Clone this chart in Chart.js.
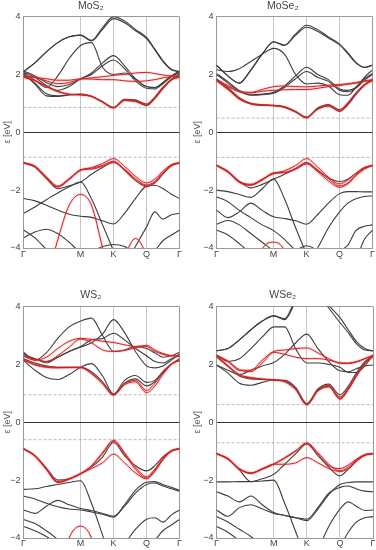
<!DOCTYPE html>
<html><head><meta charset="utf-8">
<script src="https://cdn.jsdelivr.net/npm/chart.js@4/dist/chart.umd.min.js"></script>
<style>
html,body{margin:0;padding:0;background:#fff;}
#wrap{position:relative;width:376px;height:550px;}
.p{position:absolute;width:188px;height:275px;}
canvas{display:block;}
</style>
</head><body>
<div id="wrap">
<div class="p" style="left:0;top:0"><canvas id="c0" width="188" height="275"></canvas></div>
<div class="p" style="left:188px;top:0"><canvas id="c1" width="188" height="275"></canvas></div>
<div class="p" style="left:0;top:275px"><canvas id="c2" width="188" height="275"></canvas></div>
<div class="p" style="left:188px;top:275px"><canvas id="c3" width="188" height="275"></canvas></div>
</div>
<script>
// k-path sample points (Γ=0, M=1, K=1.577, Q=2.155, Γ=2.732)
const kPath = [0, 0.2, 0.4, 0.6, 0.8, 1, 1.19, 1.385, 1.577, 1.77, 1.96, 2.155, 2.30, 2.44, 2.59, 2.732];
const kTickPos = [0, 1, 1.577, 2.155, 2.732];
const kTickLabels = ['Γ', 'M', 'K', 'Q', 'Γ'];
const energyTicks = [-4, -2, 0, 2, 4];
const panelTitles = ['MoS₂', 'MoSe₂', 'WS₂', 'WSe₂'];

// band edges (dashed lines), eV
const mos2Gap = [0.86, -0.86];
const mose2Gap = [0.49, -0.87];
const ws2Gap = [0.95, -0.60];
const wse2Gap = [0.61, -0.71];

// ---------- MoS2 ----------
const mos2Black = [
  [2.10, 2.40, 2.78, 3.10, 3.30, 3.36, 3.18, 3.62, 4.00, 3.85, 3.56, 3.28, 2.88, 2.48, 2.18, 2.10],
  [2.10, 2.40, 2.78, 3.10, 3.30, 3.36, 3.16, 3.56, 3.93, 3.79, 3.51, 3.24, 2.85, 2.45, 2.16, 2.10],
  [2.05, 1.80, 1.55, 1.95, 2.55, 3.00, 3.10, 2.25, 2.00, 2.05, 1.85, 1.58, 1.55, 1.70, 1.95, 2.05],
  [2.12, 1.95, 1.72, 1.58, 1.65, 1.85, 2.05, 2.40, 2.65, 2.30, 1.85, 1.58, 1.55, 1.72, 1.95, 2.12],
  [2.08, 1.90, 1.62, 1.45, 1.58, 1.85, 2.00, 2.30, 2.50, 2.20, 1.78, 1.52, 1.50, 1.68, 1.92, 2.08],
  [2.02, 1.67, 1.26, 1.24, 1.29, 1.32, 1.25, 1.05, 0.85, 1.10, 1.08, 0.92, 1.18, 1.52, 1.82, 2.02],
  [2.00, 1.70, 1.33, 1.26, 1.30, 1.31, 1.24, 1.06, 0.86, 1.14, 1.12, 0.97, 1.22, 1.55, 1.84, 2.00],
  [-1.05, -1.20, -1.60, -1.95, -1.85, -1.72, -1.45, -1.22, -1.02, -1.30, -1.66, -1.85, -1.75, -1.45, -1.15, -1.05],
  [-2.29, -2.37, -2.52, -2.69, -2.83, -2.90, -2.94, -3.06, -3.17, -2.80, -2.29, -1.86, -1.83, -1.94, -2.14, -2.29],
  [-2.80, -2.58, -2.33, -2.10, -1.88, -1.72, -2.30, -3.20, -4.10, -5.00, -5.50, -5.50, -5.50, -5.50, -5.50, -5.50],
  [-3.38, -3.65, -4.05, -4.40, -4.70, -5.00, -5.00, -5.00, -5.00, -4.60, -3.95, -3.27, -2.75, -3.00, -2.85, -2.80],
  [-3.65, -3.45, -3.35, -3.50, -3.80, -4.10, -4.10, -3.95, -3.88, -3.95, -4.20, -4.40, -4.10, -3.75, -3.55, -3.38]
];
const mos2Red = [
  [1.95, 1.90, 1.78, 1.68, 1.72, 1.84, 1.88, 1.92, 1.97, 2.00, 2.05, 2.07, 2.03, 1.98, 1.95, 1.95],
  [1.93, 1.90, 1.85, 1.80, 1.80, 1.85, 1.84, 1.82, 1.82, 1.78, 1.76, 1.78, 1.82, 1.88, 1.92, 1.93],
  [1.92, 1.80, 1.60, 1.42, 1.32, 1.30, 1.25, 1.05, 0.85, 1.10, 1.06, 0.93, 1.16, 1.50, 1.80, 1.92],
  [1.90, 1.78, 1.58, 1.40, 1.31, 1.29, 1.24, 1.04, 0.84, 1.13, 1.09, 0.97, 1.20, 1.55, 1.83, 1.90],
  [-1.05, -1.17, -1.54, -1.86, -1.60, -1.31, -1.22, -1.08, -0.91, -1.18, -1.52, -1.75, -1.62, -1.35, -1.12, -1.05],
  [-1.05, -1.18, -1.56, -1.88, -1.62, -1.30, -1.27, -1.18, -1.05, -1.28, -1.60, -1.82, -1.70, -1.40, -1.14, -1.05],
  [-1.06, -1.19, -1.57, -1.89, -1.63, -1.31, -1.25, -1.14, -1.00, -1.32, -1.66, -1.88, -1.74, -1.43, -1.16, -1.06],
  [-8.0, -7.0, -5.2, -3.72, -2.52, -2.15, -2.52, -4.00, -5.50, -7.0, -7.0, -7.0, -7.0, -7.0, -7.0, -7.0],
  [-7.0, -7.0, -7.0, -7.0, -7.0, -7.0, -7.0, -6.0, -5.2, -4.30, -3.67, -4.30, -5.50, -7.0, -7.0, -7.0]
];

// ---------- MoSe2 ----------
const mose2Black = [
  [2.32, 1.95, 1.70, 2.15, 2.70, 3.13, 3.02, 3.40, 3.70, 3.55, 3.30, 3.05, 2.75, 2.42, 2.25, 2.32],
  [2.32, 1.95, 1.70, 2.15, 2.70, 3.13, 3.00, 3.35, 3.63, 3.49, 3.26, 3.02, 2.72, 2.40, 2.24, 2.32],
  [2.16, 2.10, 2.20, 2.45, 2.70, 2.90, 2.70, 2.00, 1.67, 1.70, 1.60, 1.30, 1.28, 1.55, 1.90, 2.16],
  [2.03, 1.75, 1.45, 1.30, 1.32, 1.38, 1.60, 1.95, 2.25, 2.00, 1.82, 1.50, 1.45, 1.55, 1.85, 2.03],
  [2.00, 1.70, 1.42, 1.28, 1.30, 1.35, 1.55, 1.85, 2.10, 1.90, 1.76, 1.45, 1.40, 1.52, 1.80, 2.00],
  [1.85, 1.55, 1.20, 1.00, 0.95, 0.93, 0.88, 0.72, 0.52, 0.80, 0.92, 0.72, 0.95, 1.30, 1.62, 1.85],
  [1.82, 1.50, 1.15, 0.98, 0.93, 0.92, 0.86, 0.70, 0.50, 0.84, 0.96, 0.78, 1.00, 1.35, 1.65, 1.82],
  [-1.14, -1.35, -1.70, -1.92, -1.80, -1.62, -1.45, -1.25, -1.05, -1.32, -1.58, -1.70, -1.62, -1.42, -1.22, -1.14],
  [-2.23, -2.40, -2.70, -2.95, -3.20, -3.40, -3.70, -4.10, -4.50, -4.50, -4.50, -4.50, -4.50, -4.50, -4.50, -4.50],
  [-2.00, -2.05, -2.15, -2.25, -1.95, -1.62, -2.30, -3.30, -4.20, -5.00, -5.50, -5.50, -5.50, -5.50, -5.50, -5.50],
  [-2.69, -2.95, -2.75, -2.45, -2.70, -2.92, -2.98, -3.06, -3.18, -2.85, -2.45, -2.12, -2.05, -2.05, -2.06, -2.06],
  [-3.18, -3.05, -3.20, -3.50, -3.80, -4.10, -4.40, -4.60, -4.60, -4.60, -4.40, -4.10, -3.90, -3.40, -3.25, -3.20],
  [-3.38, -3.55, -3.85, -4.20, -4.60, -4.60, -4.60, -4.60, -4.60, -4.60, -4.60, -4.60, -4.60, -4.40, -3.70, -3.38],
  [-5.0, -5.0, -5.0, -5.0, -5.0, -5.0, -5.0, -4.80, -4.50, -4.00, -3.30, -2.75, -2.45, -2.30, -2.22, -2.20],
  [-5.0, -5.0, -5.0, -5.0, -5.0, -4.80, -4.40, -4.10, -3.92, -4.10, -4.50, -5.0, -5.0, -5.0, -5.0, -5.0]
];
const mose2Red = [
  [1.82, 1.62, 1.42, 1.38, 1.48, 1.58, 1.60, 1.58, 1.57, 1.60, 1.63, 1.65, 1.68, 1.72, 1.78, 1.82],
  [1.80, 1.58, 1.40, 1.36, 1.42, 1.45, 1.47, 1.48, 1.48, 1.52, 1.58, 1.62, 1.66, 1.70, 1.76, 1.80],
  [1.80, 1.50, 1.18, 1.00, 0.95, 0.93, 0.88, 0.72, 0.52, 0.80, 0.90, 0.74, 0.98, 1.32, 1.62, 1.80],
  [1.78, 1.48, 1.15, 0.98, 0.94, 0.92, 0.87, 0.71, 0.51, 0.82, 0.94, 0.78, 1.02, 1.36, 1.65, 1.78],
  [-1.14, -1.35, -1.70, -1.80, -1.62, -1.43, -1.33, -1.15, -0.91, -1.20, -1.55, -1.78, -1.65, -1.42, -1.22, -1.14],
  [-1.14, -1.36, -1.72, -1.82, -1.64, -1.40, -1.38, -1.25, -1.05, -1.30, -1.60, -1.85, -1.75, -1.48, -1.25, -1.14],
  [-1.15, -1.38, -1.73, -1.83, -1.65, -1.42, -1.40, -1.28, -1.10, -1.36, -1.68, -1.90, -1.78, -1.50, -1.27, -1.15],
  [-8.0, -8.0, -7.0, -5.5, -4.05, -3.80, -4.10, -5.5, -7.0, -8.0, -8.0, -8.0, -8.0, -8.0, -8.0, -8.0]
];

// ---------- WS2 ----------
const ws2Black = [
  [2.42, 2.15, 2.40, 2.90, 3.30, 3.50, 3.60, 3.00, 2.45, 2.50, 2.62, 2.55, 2.40, 2.25, 2.30, 2.42],
  [2.36, 2.20, 2.10, 2.25, 2.45, 2.60, 2.75, 3.05, 3.55, 3.10, 2.45, 1.95, 1.88, 1.95, 2.15, 2.36],
  [2.30, 2.20, 2.05, 2.25, 2.45, 2.62, 2.85, 2.90, 3.08, 2.85, 2.55, 2.30, 2.10, 2.05, 2.20, 2.30],
  [2.13, 1.80, 1.55, 1.48, 1.65, 1.90, 2.03, 1.60, 0.98, 1.45, 1.62, 1.38, 1.45, 1.75, 2.02, 2.13],
  [2.20, 2.05, 1.95, 1.90, 1.90, 1.90, 1.75, 1.40, 0.96, 1.35, 1.50, 1.26, 1.40, 1.70, 2.00, 2.20],
  [-0.91, -1.15, -1.58, -2.00, -1.95, -1.78, -1.55, -1.20, -0.70, -1.15, -1.50, -1.68, -1.50, -1.20, -0.98, -0.91],
  [-2.32, -2.30, -2.22, -2.15, -2.08, -2.02, -2.80, -3.90, -5.00, -6.0, -6.0, -6.0, -6.0, -6.0, -6.0, -6.0],
  [-2.55, -2.65, -2.80, -2.92, -3.00, -3.03, -3.10, -3.18, -3.28, -2.85, -2.35, -2.07, -2.05, -2.15, -2.25, -2.35],
  [-3.03, -3.15, -2.90, -2.70, -2.85, -2.98, -3.05, -3.15, -3.25, -2.90, -2.45, -2.15, -2.10, -2.20, -2.30, -2.38],
  [-3.36, -3.50, -3.75, -4.05, -4.40, -4.70, -5.00, -5.00, -4.60, -4.20, -3.70, -3.35, -3.30, -3.45, -3.20, -3.03],
  [-3.60, -3.75, -3.95, -4.20, -4.50, -5.00, -5.00, -5.00, -5.00, -5.00, -5.00, -4.50, -4.10, -3.75, -3.55, -3.36]
];
const ws2Red = [
  [2.28, 2.15, 2.25, 2.55, 2.80, 2.90, 2.87, 2.80, 2.76, 2.68, 2.62, 2.66, 2.50, 2.38, 2.30, 2.28],
  [2.30, 2.18, 2.10, 2.30, 2.60, 2.88, 2.75, 2.50, 2.45, 2.48, 2.58, 2.62, 2.45, 2.35, 2.30, 2.30],
  [2.18, 2.00, 1.92, 1.90, 1.90, 1.90, 1.70, 1.35, 0.95, 1.30, 1.40, 1.02, 1.25, 1.65, 2.00, 2.18],
  [2.15, 1.98, 1.90, 1.88, 1.89, 1.89, 1.68, 1.33, 0.94, 1.33, 1.45, 1.10, 1.35, 1.72, 2.02, 2.15],
  [-0.91, -1.15, -1.60, -2.05, -1.95, -1.78, -1.50, -1.05, -0.62, -1.05, -1.55, -1.88, -1.62, -1.25, -0.98, -0.91],
  [-0.91, -1.16, -1.62, -2.08, -1.97, -1.78, -1.60, -1.40, -1.10, -1.40, -1.75, -1.95, -1.70, -1.30, -1.00, -0.91],
  [-0.92, -1.17, -1.63, -2.08, -1.96, -1.77, -1.52, -1.08, -0.66, -1.10, -1.62, -1.93, -1.66, -1.28, -1.00, -0.92],
  [-8.0, -8.0, -7.0, -5.5, -4.00, -3.59, -4.00, -5.5, -8.0, -8.0, -8.0, -8.0, -8.0, -8.0, -8.0, -8.0]
];

// ---------- WSe2 ----------
const wse2Black = [
  [2.47, 2.55, 2.85, 3.20, 3.50, 3.68, 3.58, 4.30, 5.00, 4.60, 4.05, 3.62, 3.20, 2.80, 2.55, 2.47],
  [2.47, 2.55, 2.85, 3.20, 3.50, 3.68, 3.55, 4.20, 4.90, 4.50, 3.95, 3.45, 3.10, 2.72, 2.50, 2.47],
  [2.33, 2.10, 2.20, 2.55, 2.95, 3.30, 3.30, 2.53, 2.05, 2.05, 2.00, 1.90, 1.72, 1.72, 1.95, 2.33],
  [1.98, 1.80, 1.65, 1.80, 1.95, 2.07, 2.35, 2.75, 3.05, 2.55, 2.10, 1.78, 1.75, 1.85, 1.95, 1.98],
  [1.98, 1.70, 1.35, 1.28, 1.38, 1.46, 1.42, 1.15, 0.62, 1.10, 1.25, 0.82, 1.15, 1.60, 2.05, 2.30],
  [2.30, 1.95, 1.60, 1.50, 1.48, 1.46, 1.45, 1.20, 0.65, 1.15, 1.32, 0.95, 1.25, 1.70, 2.10, 2.30],
  [-1.08, -1.27, -1.65, -2.05, -1.95, -1.80, -1.45, -1.08, -0.75, -1.15, -1.55, -1.85, -1.62, -1.35, -1.12, -1.08],
  [-2.06, -2.06, -2.05, -2.05, -2.03, -2.00, -2.80, -3.80, -4.80, -6.0, -6.0, -6.0, -6.0, -6.0, -6.0, -6.0],
  [-2.40, -2.55, -2.75, -2.55, -2.85, -3.12, -3.22, -3.30, -3.40, -3.00, -2.50, -2.15, -2.08, -2.06, -2.06, -2.06],
  [-3.03, -3.25, -2.95, -2.85, -3.00, -3.15, -3.22, -3.30, -3.35, -2.95, -2.45, -2.25, -2.20, -2.30, -2.38, -2.40],
  [-3.26, -3.45, -3.70, -3.95, -4.30, -4.60, -5.00, -5.00, -5.00, -4.40, -3.60, -3.00, -2.75, -2.90, -3.05, -3.03],
  [-3.60, -3.80, -4.10, -4.40, -4.70, -5.00, -5.00, -5.00, -5.00, -5.00, -4.80, -4.30, -3.80, -3.45, -3.30, -3.26]
];
const wse2Red = [
  [2.30, 2.10, 1.80, 1.80, 2.15, 2.45, 2.50, 2.55, 2.57, 2.40, 2.20, 2.05, 2.05, 2.10, 2.20, 2.30],
  [2.32, 2.12, 1.82, 1.75, 2.05, 2.42, 2.35, 2.25, 2.20, 2.20, 2.15, 2.05, 2.03, 2.08, 2.20, 2.32],
  [2.28, 1.95, 1.65, 1.55, 1.50, 1.47, 1.42, 1.15, 0.62, 1.08, 1.22, 0.80, 1.12, 1.58, 2.02, 2.28],
  [2.26, 1.93, 1.62, 1.53, 1.49, 1.46, 1.40, 1.12, 0.60, 1.12, 1.28, 0.88, 1.20, 1.64, 2.05, 2.26],
  [-1.08, -1.25, -1.60, -1.75, -1.62, -1.45, -1.22, -0.98, -0.71, -1.05, -1.45, -1.68, -1.55, -1.30, -1.12, -1.08],
  [-1.08, -1.26, -1.62, -1.77, -1.62, -1.45, -1.45, -1.40, -1.22, -1.40, -1.60, -1.70, -1.60, -1.35, -1.15, -1.08],
  [-1.09, -1.27, -1.62, -1.76, -1.60, -1.44, -1.25, -1.00, -0.74, -1.10, -1.50, -1.60, -1.48, -1.28, -1.12, -1.09]
];

Chart.defaults.font.family = "'Liberation Sans', Arial, sans-serif";
Chart.defaults.color = '#444';

const panels = [
  {id: 'c0', title: panelTitles[0], black: mos2Black, red: mos2Red, gap: mos2Gap, top: true, left: true},
  {id: 'c1', title: panelTitles[1], black: mose2Black, red: mose2Red, gap: mose2Gap, top: true, left: false},
  {id: 'c2', title: panelTitles[2], black: ws2Black, red: ws2Red, gap: ws2Gap, top: false, left: true},
  {id: 'c3', title: panelTitles[3], black: wse2Black, red: wse2Red, gap: wse2Gap, top: false, left: false}
];

function toPts(band) { return kPath.map((k, i) => ({x: k, y: band[i]})); }
const kMax = kTickPos[kTickPos.length - 1];

panels.forEach(p => {
  const ds = [];
  p.gap.forEach(g => ds.push({
    data: [{x: 0, y: g}, {x: kMax, y: g}], borderColor: '#a8a8a8', borderWidth: 0.8,
    borderDash: [3, 2], pointRadius: 0, order: 5
  }));
  p.black.forEach(b => ds.push({
    data: toPts(b), borderColor: '#3d3d3d', borderWidth: 1.1, pointRadius: 0,
    cubicInterpolationMode: 'monotone', order: 4
  }));
  p.red.forEach(b => ds.push({
    data: toPts(b), borderColor: 'rgba(240,90,90,0.2)', borderWidth: 2.8, pointRadius: 0,
    cubicInterpolationMode: 'monotone', order: 3
  }));
  p.red.forEach(b => ds.push({
    data: toPts(b), borderColor: '#d42020', borderWidth: 1, pointRadius: 0,
    cubicInterpolationMode: 'monotone', order: 2
  }));

  new Chart(document.getElementById(p.id), {
    type: 'line',
    data: {datasets: ds},
    options: {
      responsive: false,
      animation: false,
      events: [],
      layout: {padding: {left: p.left ? 2 : 4.5, right: p.left ? 8.5 : 3, top: p.top ? 0 : 14, bottom: 0}},
      plugins: {
        legend: {display: false},
        tooltip: {enabled: false},
        title: {display: true, text: p.title, color: '#444',
          font: {size: 10.5, weight: 'normal'}, padding: {top: 0, bottom: p.top ? 4 : 5}}
      },
      scales: {
        x: {
          type: 'linear', min: 0, max: kMax,
          afterBuildTicks: s => { s.ticks = kTickPos.map(v => ({value: v})); },
          afterFit: s => { s.height = p.top ? 27 : 12; },
          ticks: {autoSkip: false, maxRotation: 0, padding: p.top ? 1 : 0, font: {size: 9}, color: '#444',
            callback: (v, i) => kTickLabels[i]},
          grid: {drawTicks: false,
            color: c => (c.index === 0 || c.index === kTickPos.length - 1) ? '#9a9a9a' : '#c6c6c6',
            lineWidth: 1},
          border: {color: '#9a9a9a'}
        },
        y: {
          type: 'linear', min: -4, max: 4,
          afterBuildTicks: s => { s.ticks = energyTicks.map(v => ({value: v})); },
          afterFit: s => { s.width = p.left ? 21.5 : 24; },
          ticks: {padding: 3, font: {size: 9}, color: '#444',
            callback: v => v < 0 ? '\u2212' + Math.abs(v) : String(v)},
          grid: {drawTicks: false,
            color: c => c.tick.value === 0 ? '#333' : (Math.abs(c.tick.value) === 4 ? '#9a9a9a' : 'rgba(0,0,0,0)'),
            lineWidth: 1},
          border: {color: '#9a9a9a'},
          title: {display: true, text: 'ε [eV]', font: {size: 9}, color: '#555', padding: 0}
        }
      }
    }
  });
});
</script>
</body></html>
